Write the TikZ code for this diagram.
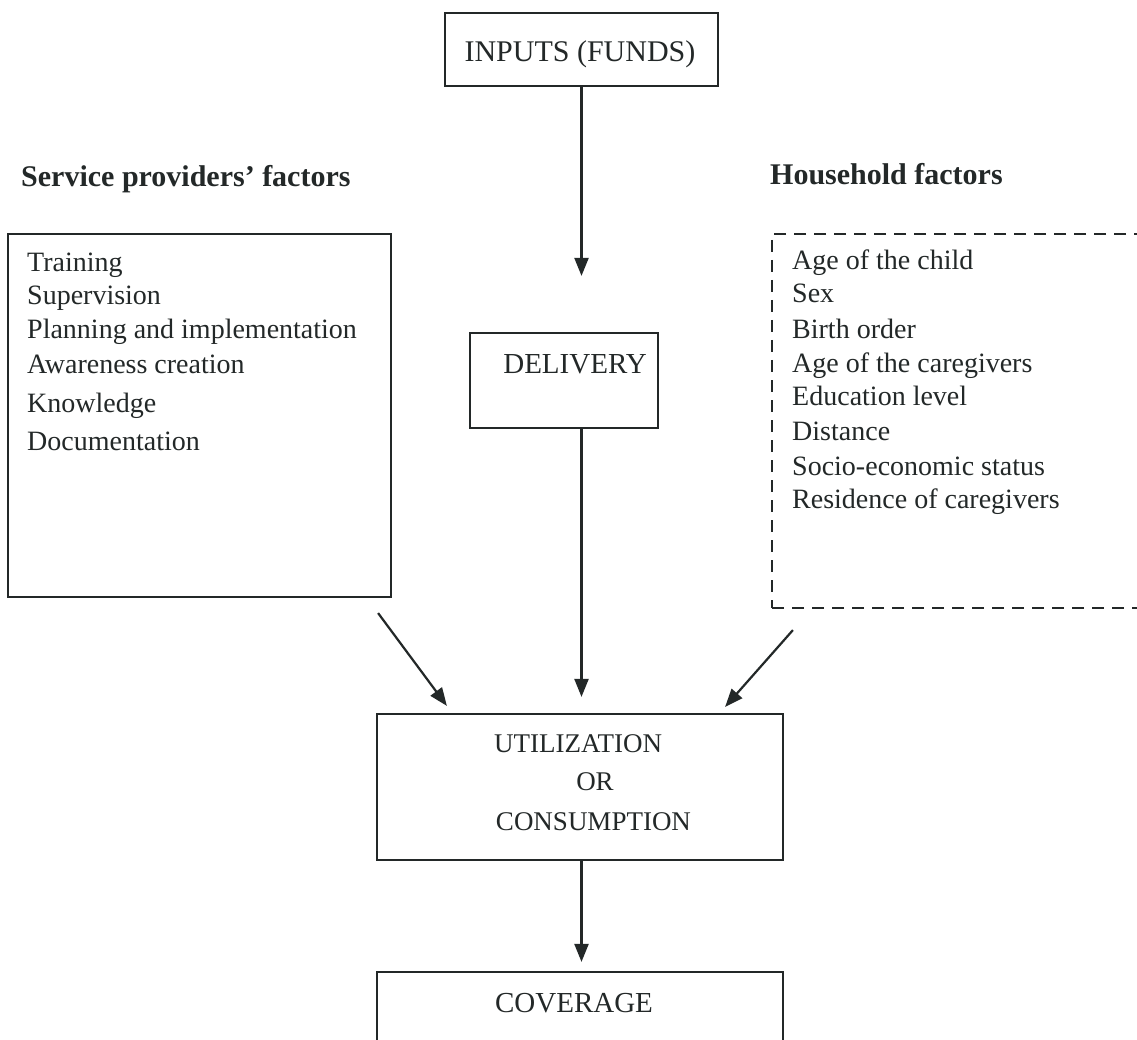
\documentclass[tikz,border=0pt]{standalone}
\usepackage{fontspec}
\setmainfont{Liberation Serif}
\usetikzlibrary{arrows.meta}
\definecolor{ink}{RGB}{35,40,40}
\tikzset{
  boxed/.style={draw=ink, line width=2.2pt, rectangle, inner sep=0pt},
  dashbox/.style={draw=ink, line width=2.2pt, rectangle, inner sep=0pt, dash pattern=on 12pt off 8pt},
  txt/.style={inner sep=0pt, text=ink, font=\fontsize{28}{34}\selectfont},
  lst/.style={txt, anchor=base west},
  ctr/.style={inner sep=0pt, text=ink, anchor=base},
  head/.style={inner sep=0pt, text=ink, anchor=base west, font=\fontsize{30}{36}\selectfont\bfseries},
  arr/.style={draw=ink, line width=2.2pt, -{Triangle[length=18pt, width=14pt]}}
}
\begin{document}
\begin{tikzpicture}[x=1pt, y=-1pt]
\useasboundingbox (0,0) rectangle (1137,1040);
\fill[white] (0,0) rectangle (1137,1040);

% boxes
\node[boxed, minimum width=273pt, minimum height=73pt] (inputs) at (581.5,49.5) {};
\node[boxed, minimum width=188pt, minimum height=95pt] (delivery) at (564,380.5) {};
\node[boxed, minimum width=383pt, minimum height=363pt] (provbox) at (199.5,415.5) {};
\node[dashbox, minimum width=400pt, minimum height=374pt] (hhbox) at (972,421) {};
\node[boxed, minimum width=406pt, minimum height=146pt] (util) at (580,787) {};
\node[boxed, minimum width=406pt, minimum height=100pt] (coverage) at (580,1022) {};

% box texts
\node[ctr, font=\fontsize{30}{36}\selectfont] (tinputs) at (580,62) {INPUTS (FUNDS)};
\node[ctr, font=\fontsize{29}{34}\selectfont] (tdelivery) at (575,373) {DELIVERY};
\node[ctr, font=\fontsize{27}{32}\selectfont] (tutil) at (578,752) {UTILIZATION};
\node[ctr, font=\fontsize{27}{32}\selectfont] (tor) at (595,790) {OR};
\node[ctr, font=\fontsize{27}{32}\selectfont] (tcons) at (593.5,830) {CONSUMPTION};
\node[ctr, font=\fontsize{29}{34}\selectfont] (tcov) at (574,1012) {COVERAGE};

% headings
\node[head] (hprov) at (21,187) {Service providers’ factors};
\node[head] (hhh) at (770,185) {Household factors};

% provider list
\node[lst] (p1) at (27,272) {Training};
\node[lst] (p2) at (27,305) {Supervision};
\node[lst] (p3) at (27,338) {Planning and implementation};
\node[lst] (p4) at (27,373) {Awareness creation};
\node[lst] (p5) at (27,412) {Knowledge};
\node[lst] (p6) at (27,450) {Documentation};

% household list
\node[lst] (h1) at (792,270) {Age of the child};
\node[lst] (h2) at (792,303) {Sex};
\node[lst] (h3) at (792,338) {Birth order};
\node[lst] (h4) at (792,372) {Age of the caregivers};
\node[lst] (h5) at (792,405) {Education level};
\node[lst] (h6) at (792,440) {Distance};
\node[lst] (h7) at (792,475) {Socio-economic status};
\node[lst] (h8) at (792,508) {Residence of caregivers};

% connectors
\draw[arr, shorten >=56pt] (inputs.south) -- (inputs.south |- delivery.north);
\draw[arr, shorten >=16pt] (delivery.south -| inputs.south) -- (util.north -| inputs.south);
\draw[arr, shorten >=9pt] (util.south -| inputs.south) -- (coverage.north -| inputs.south);

\coordinate (ls) at ([shift={(-14,15)}]provbox.south east);
\coordinate (le) at ([shift={(71,-7)}]util.north west);
\coordinate (rs) at ([shift={(22,21)}]hhbox.south west);
\coordinate (re) at ([shift={(-59,-6)}]util.north east);
\draw[arr] (ls) -- (le);
\draw[arr] (rs) -- (re);
\end{tikzpicture}
\end{document}
